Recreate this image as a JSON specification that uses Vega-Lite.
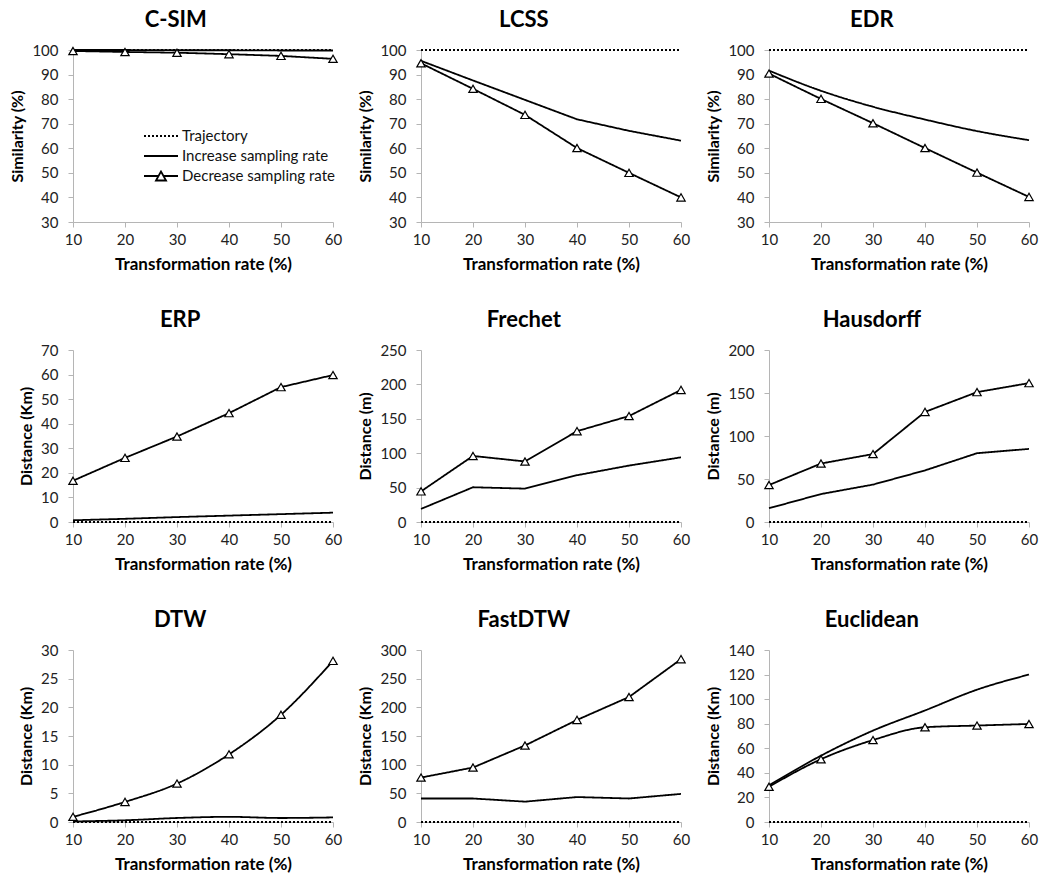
{
  "$schema": "https://vega.github.io/schema/vega-lite/v6.json",
  "background": "white",
  "padding": {"left": 9, "top": 9, "right": 5, "bottom": 3},
  "datasets": {
    "d": [
      {"m": "C-SIM", "s": "Trajectory", "r": 10, "v": 100}, {"m": "C-SIM", "s": "Trajectory", "r": 20, "v": 100}, {"m": "C-SIM", "s": "Trajectory", "r": 30, "v": 100}, {"m": "C-SIM", "s": "Trajectory", "r": 40, "v": 100}, {"m": "C-SIM", "s": "Trajectory", "r": 50, "v": 100}, {"m": "C-SIM", "s": "Trajectory", "r": 60, "v": 100},
      {"m": "C-SIM", "s": "Increase sampling rate", "r": 10, "v": 100}, {"m": "C-SIM", "s": "Increase sampling rate", "r": 20, "v": 100}, {"m": "C-SIM", "s": "Increase sampling rate", "r": 30, "v": 99.9}, {"m": "C-SIM", "s": "Increase sampling rate", "r": 40, "v": 99.9}, {"m": "C-SIM", "s": "Increase sampling rate", "r": 50, "v": 99.8}, {"m": "C-SIM", "s": "Increase sampling rate", "r": 60, "v": 99.8},
      {"m": "C-SIM", "s": "Decrease sampling rate", "r": 10, "v": 99.6}, {"m": "C-SIM", "s": "Decrease sampling rate", "r": 20, "v": 99.2}, {"m": "C-SIM", "s": "Decrease sampling rate", "r": 30, "v": 98.9}, {"m": "C-SIM", "s": "Decrease sampling rate", "r": 40, "v": 98.3}, {"m": "C-SIM", "s": "Decrease sampling rate", "r": 50, "v": 97.6}, {"m": "C-SIM", "s": "Decrease sampling rate", "r": 60, "v": 96.4},

      {"m": "LCSS", "s": "Trajectory", "r": 10, "v": 100}, {"m": "LCSS", "s": "Trajectory", "r": 20, "v": 100}, {"m": "LCSS", "s": "Trajectory", "r": 30, "v": 100}, {"m": "LCSS", "s": "Trajectory", "r": 40, "v": 100}, {"m": "LCSS", "s": "Trajectory", "r": 50, "v": 100}, {"m": "LCSS", "s": "Trajectory", "r": 60, "v": 100},
      {"m": "LCSS", "s": "Increase sampling rate", "r": 10, "v": 95.6}, {"m": "LCSS", "s": "Increase sampling rate", "r": 20, "v": 87.6}, {"m": "LCSS", "s": "Increase sampling rate", "r": 30, "v": 79.7}, {"m": "LCSS", "s": "Increase sampling rate", "r": 40, "v": 71.8}, {"m": "LCSS", "s": "Increase sampling rate", "r": 50, "v": 67.1}, {"m": "LCSS", "s": "Increase sampling rate", "r": 60, "v": 63.1},
      {"m": "LCSS", "s": "Decrease sampling rate", "r": 10, "v": 94.6}, {"m": "LCSS", "s": "Decrease sampling rate", "r": 20, "v": 84.2}, {"m": "LCSS", "s": "Decrease sampling rate", "r": 30, "v": 73.6}, {"m": "LCSS", "s": "Decrease sampling rate", "r": 40, "v": 60.1}, {"m": "LCSS", "s": "Decrease sampling rate", "r": 50, "v": 50}, {"m": "LCSS", "s": "Decrease sampling rate", "r": 60, "v": 40},

      {"m": "EDR", "s": "Trajectory", "r": 10, "v": 100}, {"m": "EDR", "s": "Trajectory", "r": 20, "v": 100}, {"m": "EDR", "s": "Trajectory", "r": 30, "v": 100}, {"m": "EDR", "s": "Trajectory", "r": 40, "v": 100}, {"m": "EDR", "s": "Trajectory", "r": 50, "v": 100}, {"m": "EDR", "s": "Trajectory", "r": 60, "v": 100},
      {"m": "EDR", "s": "Increase sampling rate", "r": 10, "v": 91.6}, {"m": "EDR", "s": "Increase sampling rate", "r": 20, "v": 83.4}, {"m": "EDR", "s": "Increase sampling rate", "r": 30, "v": 76.9}, {"m": "EDR", "s": "Increase sampling rate", "r": 40, "v": 71.7}, {"m": "EDR", "s": "Increase sampling rate", "r": 50, "v": 67}, {"m": "EDR", "s": "Increase sampling rate", "r": 60, "v": 63.3},
      {"m": "EDR", "s": "Decrease sampling rate", "r": 10, "v": 90.4}, {"m": "EDR", "s": "Decrease sampling rate", "r": 20, "v": 80.1}, {"m": "EDR", "s": "Decrease sampling rate", "r": 30, "v": 70.2}, {"m": "EDR", "s": "Decrease sampling rate", "r": 40, "v": 60.1}, {"m": "EDR", "s": "Decrease sampling rate", "r": 50, "v": 50.1}, {"m": "EDR", "s": "Decrease sampling rate", "r": 60, "v": 40.2},

      {"m": "ERP", "s": "Trajectory", "r": 10, "v": 0}, {"m": "ERP", "s": "Trajectory", "r": 20, "v": 0}, {"m": "ERP", "s": "Trajectory", "r": 30, "v": 0}, {"m": "ERP", "s": "Trajectory", "r": 40, "v": 0}, {"m": "ERP", "s": "Trajectory", "r": 50, "v": 0}, {"m": "ERP", "s": "Trajectory", "r": 60, "v": 0},
      {"m": "ERP", "s": "Increase sampling rate", "r": 10, "v": 0.7}, {"m": "ERP", "s": "Increase sampling rate", "r": 20, "v": 1.3}, {"m": "ERP", "s": "Increase sampling rate", "r": 30, "v": 2}, {"m": "ERP", "s": "Increase sampling rate", "r": 40, "v": 2.6}, {"m": "ERP", "s": "Increase sampling rate", "r": 50, "v": 3.2}, {"m": "ERP", "s": "Increase sampling rate", "r": 60, "v": 3.8},
      {"m": "ERP", "s": "Decrease sampling rate", "r": 10, "v": 16.8}, {"m": "ERP", "s": "Decrease sampling rate", "r": 20, "v": 26.1}, {"m": "ERP", "s": "Decrease sampling rate", "r": 30, "v": 34.8}, {"m": "ERP", "s": "Decrease sampling rate", "r": 40, "v": 44.3}, {"m": "ERP", "s": "Decrease sampling rate", "r": 50, "v": 54.9}, {"m": "ERP", "s": "Decrease sampling rate", "r": 60, "v": 59.8},

      {"m": "Frechet", "s": "Trajectory", "r": 10, "v": 0}, {"m": "Frechet", "s": "Trajectory", "r": 20, "v": 0}, {"m": "Frechet", "s": "Trajectory", "r": 30, "v": 0}, {"m": "Frechet", "s": "Trajectory", "r": 40, "v": 0}, {"m": "Frechet", "s": "Trajectory", "r": 50, "v": 0}, {"m": "Frechet", "s": "Trajectory", "r": 60, "v": 0},
      {"m": "Frechet", "s": "Increase sampling rate", "r": 10, "v": 19}, {"m": "Frechet", "s": "Increase sampling rate", "r": 20, "v": 50.5}, {"m": "Frechet", "s": "Increase sampling rate", "r": 30, "v": 48.5}, {"m": "Frechet", "s": "Increase sampling rate", "r": 40, "v": 68}, {"m": "Frechet", "s": "Increase sampling rate", "r": 50, "v": 82}, {"m": "Frechet", "s": "Increase sampling rate", "r": 60, "v": 94},
      {"m": "Frechet", "s": "Decrease sampling rate", "r": 10, "v": 44.5}, {"m": "Frechet", "s": "Decrease sampling rate", "r": 20, "v": 96}, {"m": "Frechet", "s": "Decrease sampling rate", "r": 30, "v": 88}, {"m": "Frechet", "s": "Decrease sampling rate", "r": 40, "v": 132}, {"m": "Frechet", "s": "Decrease sampling rate", "r": 50, "v": 154}, {"m": "Frechet", "s": "Decrease sampling rate", "r": 60, "v": 192},

      {"m": "Hausdorff", "s": "Trajectory", "r": 10, "v": 0}, {"m": "Hausdorff", "s": "Trajectory", "r": 20, "v": 0}, {"m": "Hausdorff", "s": "Trajectory", "r": 30, "v": 0}, {"m": "Hausdorff", "s": "Trajectory", "r": 40, "v": 0}, {"m": "Hausdorff", "s": "Trajectory", "r": 50, "v": 0}, {"m": "Hausdorff", "s": "Trajectory", "r": 60, "v": 0},
      {"m": "Hausdorff", "s": "Increase sampling rate", "r": 10, "v": 16}, {"m": "Hausdorff", "s": "Increase sampling rate", "r": 20, "v": 32.5}, {"m": "Hausdorff", "s": "Increase sampling rate", "r": 30, "v": 43.5}, {"m": "Hausdorff", "s": "Increase sampling rate", "r": 40, "v": 60}, {"m": "Hausdorff", "s": "Increase sampling rate", "r": 50, "v": 80}, {"m": "Hausdorff", "s": "Increase sampling rate", "r": 60, "v": 85},
      {"m": "Hausdorff", "s": "Decrease sampling rate", "r": 10, "v": 43}, {"m": "Hausdorff", "s": "Decrease sampling rate", "r": 20, "v": 68}, {"m": "Hausdorff", "s": "Decrease sampling rate", "r": 30, "v": 79}, {"m": "Hausdorff", "s": "Decrease sampling rate", "r": 40, "v": 128}, {"m": "Hausdorff", "s": "Decrease sampling rate", "r": 50, "v": 151}, {"m": "Hausdorff", "s": "Decrease sampling rate", "r": 60, "v": 161.5},

      {"m": "DTW", "s": "Trajectory", "r": 10, "v": 0}, {"m": "DTW", "s": "Trajectory", "r": 20, "v": 0}, {"m": "DTW", "s": "Trajectory", "r": 30, "v": 0}, {"m": "DTW", "s": "Trajectory", "r": 40, "v": 0}, {"m": "DTW", "s": "Trajectory", "r": 50, "v": 0}, {"m": "DTW", "s": "Trajectory", "r": 60, "v": 0},
      {"m": "DTW", "s": "Increase sampling rate", "r": 10, "v": 0.1}, {"m": "DTW", "s": "Increase sampling rate", "r": 20, "v": 0.3}, {"m": "DTW", "s": "Increase sampling rate", "r": 30, "v": 0.7}, {"m": "DTW", "s": "Increase sampling rate", "r": 40, "v": 0.9}, {"m": "DTW", "s": "Increase sampling rate", "r": 50, "v": 0.7}, {"m": "DTW", "s": "Increase sampling rate", "r": 60, "v": 0.8},
      {"m": "DTW", "s": "Decrease sampling rate", "r": 10, "v": 0.9}, {"m": "DTW", "s": "Decrease sampling rate", "r": 20, "v": 3.5}, {"m": "DTW", "s": "Decrease sampling rate", "r": 30, "v": 6.7}, {"m": "DTW", "s": "Decrease sampling rate", "r": 40, "v": 11.8}, {"m": "DTW", "s": "Decrease sampling rate", "r": 50, "v": 18.7}, {"m": "DTW", "s": "Decrease sampling rate", "r": 60, "v": 28.1},

      {"m": "FastDTW", "s": "Trajectory", "r": 10, "v": 0}, {"m": "FastDTW", "s": "Trajectory", "r": 20, "v": 0}, {"m": "FastDTW", "s": "Trajectory", "r": 30, "v": 0}, {"m": "FastDTW", "s": "Trajectory", "r": 40, "v": 0}, {"m": "FastDTW", "s": "Trajectory", "r": 50, "v": 0}, {"m": "FastDTW", "s": "Trajectory", "r": 60, "v": 0},
      {"m": "FastDTW", "s": "Increase sampling rate", "r": 10, "v": 41}, {"m": "FastDTW", "s": "Increase sampling rate", "r": 20, "v": 41}, {"m": "FastDTW", "s": "Increase sampling rate", "r": 30, "v": 35.5}, {"m": "FastDTW", "s": "Increase sampling rate", "r": 40, "v": 43.5}, {"m": "FastDTW", "s": "Increase sampling rate", "r": 50, "v": 41}, {"m": "FastDTW", "s": "Increase sampling rate", "r": 60, "v": 49},
      {"m": "FastDTW", "s": "Decrease sampling rate", "r": 10, "v": 77.5}, {"m": "FastDTW", "s": "Decrease sampling rate", "r": 20, "v": 95}, {"m": "FastDTW", "s": "Decrease sampling rate", "r": 30, "v": 133.5}, {"m": "FastDTW", "s": "Decrease sampling rate", "r": 40, "v": 178}, {"m": "FastDTW", "s": "Decrease sampling rate", "r": 50, "v": 218}, {"m": "FastDTW", "s": "Decrease sampling rate", "r": 60, "v": 284},

      {"m": "Euclidean", "s": "Trajectory", "r": 10, "v": 0}, {"m": "Euclidean", "s": "Trajectory", "r": 20, "v": 0}, {"m": "Euclidean", "s": "Trajectory", "r": 30, "v": 0}, {"m": "Euclidean", "s": "Trajectory", "r": 40, "v": 0}, {"m": "Euclidean", "s": "Trajectory", "r": 50, "v": 0}, {"m": "Euclidean", "s": "Trajectory", "r": 60, "v": 0},
      {"m": "Euclidean", "s": "Increase sampling rate", "r": 10, "v": 29.8}, {"m": "Euclidean", "s": "Increase sampling rate", "r": 20, "v": 54}, {"m": "Euclidean", "s": "Increase sampling rate", "r": 30, "v": 74.4}, {"m": "Euclidean", "s": "Increase sampling rate", "r": 40, "v": 90.8}, {"m": "Euclidean", "s": "Increase sampling rate", "r": 50, "v": 107.7}, {"m": "Euclidean", "s": "Increase sampling rate", "r": 60, "v": 120},
      {"m": "Euclidean", "s": "Decrease sampling rate", "r": 10, "v": 28.7}, {"m": "Euclidean", "s": "Decrease sampling rate", "r": 20, "v": 51.1}, {"m": "Euclidean", "s": "Decrease sampling rate", "r": 30, "v": 66.7}, {"m": "Euclidean", "s": "Decrease sampling rate", "r": 40, "v": 77.1}, {"m": "Euclidean", "s": "Decrease sampling rate", "r": 50, "v": 78.5}, {"m": "Euclidean", "s": "Decrease sampling rate", "r": 60, "v": 79.8}
    ]
  },
  "columns": 3,
  "spacing": {"column": 88, "row": 128},
  "bounds": "flush",
  "resolve": {"scale": {"strokeDash": "independent"}, "legend": {"strokeDash": "independent"}},
  "concat": [
    {
      "title": "C-SIM", "width": 260, "height": 172,
      "data": {"name": "d"},
      "transform": [{"filter": "datum.m === 'C-SIM'"}],
      "encoding": {
        "x": {"field": "r", "type": "quantitative", "scale": {"domain": [10, 60], "nice": false, "zero": false}, "axis": {"values": [10, 20, 30, 40, 50, 60], "title": "Transformation rate (%)"}},
        "y": {"field": "v", "type": "quantitative", "scale": {"domain": [30, 100], "nice": false, "zero": false}, "axis": {"values": [30, 40, 50, 60, 70, 80, 90, 100], "title": "Similarity (%)"}}
      },
      "layer": [
        {"mark": {"type": "line", "color": "black", "strokeWidth": 1.8},
         "encoding": {"strokeDash": {"field": "s", "type": "nominal",
           "scale": {"domain": ["Trajectory", "Increase sampling rate", "Decrease sampling rate"], "range": [[2, 2], [1, 0], [1, 0]]},
           "legend": {"title": null, "orient": "none", "legendX": 77, "legendY": 75, "symbolType": "stroke", "symbolSize": 400, "symbolStrokeWidth": 1.8, "symbolStrokeColor": "black", "symbolFillColor": "transparent", "labelFont": "Lato", "labelFontSize": 15, "labelColor": "#111", "rowPadding": 1, "labelOffset": 10,
             "encode": {"symbols": {"update": {"shape": {"signal": "datum.value === 'Decrease sampling rate' ? 'M-1.7,0L-0.27,0M0.27,0L1.7,0M-0.5,0.45L0,-0.45L0.5,0.45Z' : 'M-1.7,0L1.7,0'"}}}}}}}},
        {"transform": [{"filter": "datum.s === 'Decrease sampling rate'"}],
         "mark": {"type": "point", "shape": "triangle-up", "filled": true, "fill": "white", "stroke": "black", "strokeWidth": 1.2, "size": 70, "opacity": 1}}
      ]
    },
    {
      "title": "LCSS", "width": 260, "height": 172,
      "data": {"name": "d"},
      "transform": [{"filter": "datum.m === 'LCSS'"}],
      "encoding": {
        "x": {"field": "r", "type": "quantitative", "scale": {"domain": [10, 60], "nice": false, "zero": false}, "axis": {"values": [10, 20, 30, 40, 50, 60], "title": "Transformation rate (%)"}},
        "y": {"field": "v", "type": "quantitative", "scale": {"domain": [30, 100], "nice": false, "zero": false}, "axis": {"values": [30, 40, 50, 60, 70, 80, 90, 100], "title": "Similarity (%)"}}
      },
      "layer": [
        {"mark": {"type": "line", "color": "black", "strokeWidth": 1.8},
         "encoding": {"strokeDash": {"field": "s", "type": "nominal", "scale": {"domain": ["Trajectory", "Increase sampling rate", "Decrease sampling rate"], "range": [[2, 2], [1, 0], [1, 0]]}, "legend": null}}},
        {"transform": [{"filter": "datum.s === 'Decrease sampling rate'"}],
         "mark": {"type": "point", "shape": "triangle-up", "filled": true, "fill": "white", "stroke": "black", "strokeWidth": 1.2, "size": 70, "opacity": 1}}
      ]
    },
    {
      "title": "EDR", "width": 260, "height": 172,
      "data": {"name": "d"},
      "transform": [{"filter": "datum.m === 'EDR'"}],
      "encoding": {
        "x": {"field": "r", "type": "quantitative", "scale": {"domain": [10, 60], "nice": false, "zero": false}, "axis": {"values": [10, 20, 30, 40, 50, 60], "title": "Transformation rate (%)"}},
        "y": {"field": "v", "type": "quantitative", "scale": {"domain": [30, 100], "nice": false, "zero": false}, "axis": {"values": [30, 40, 50, 60, 70, 80, 90, 100], "title": "Similarity (%)"}}
      },
      "layer": [
        {"mark": {"type": "line", "interpolate": "monotone", "color": "black", "strokeWidth": 1.8},
         "encoding": {"strokeDash": {"field": "s", "type": "nominal", "scale": {"domain": ["Trajectory", "Increase sampling rate", "Decrease sampling rate"], "range": [[2, 2], [1, 0], [1, 0]]}, "legend": null}}},
        {"transform": [{"filter": "datum.s === 'Decrease sampling rate'"}],
         "mark": {"type": "point", "shape": "triangle-up", "filled": true, "fill": "white", "stroke": "black", "strokeWidth": 1.2, "size": 70, "opacity": 1}}
      ]
    },
    {
      "title": "ERP", "width": 260, "height": 172,
      "data": {"name": "d"},
      "transform": [{"filter": "datum.m === 'ERP'"}],
      "encoding": {
        "x": {"field": "r", "type": "quantitative", "scale": {"domain": [10, 60], "nice": false, "zero": false}, "axis": {"values": [10, 20, 30, 40, 50, 60], "title": "Transformation rate (%)"}},
        "y": {"field": "v", "type": "quantitative", "scale": {"domain": [0, 70], "nice": false, "zero": false}, "axis": {"values": [0, 10, 20, 30, 40, 50, 60, 70], "title": "Distance (Km)"}}
      },
      "layer": [
        {"mark": {"type": "line", "color": "black", "strokeWidth": 1.8},
         "encoding": {"strokeDash": {"field": "s", "type": "nominal", "scale": {"domain": ["Trajectory", "Increase sampling rate", "Decrease sampling rate"], "range": [[2, 2], [1, 0], [1, 0]]}, "legend": null}}},
        {"transform": [{"filter": "datum.s === 'Decrease sampling rate'"}],
         "mark": {"type": "point", "shape": "triangle-up", "filled": true, "fill": "white", "stroke": "black", "strokeWidth": 1.2, "size": 70, "opacity": 1}}
      ]
    },
    {
      "title": "Frechet", "width": 260, "height": 172,
      "data": {"name": "d"},
      "transform": [{"filter": "datum.m === 'Frechet'"}],
      "encoding": {
        "x": {"field": "r", "type": "quantitative", "scale": {"domain": [10, 60], "nice": false, "zero": false}, "axis": {"values": [10, 20, 30, 40, 50, 60], "title": "Transformation rate (%)"}},
        "y": {"field": "v", "type": "quantitative", "scale": {"domain": [0, 250], "nice": false, "zero": false}, "axis": {"values": [0, 50, 100, 150, 200, 250], "title": "Distance (m)"}}
      },
      "layer": [
        {"mark": {"type": "line", "color": "black", "strokeWidth": 1.8},
         "encoding": {"strokeDash": {"field": "s", "type": "nominal", "scale": {"domain": ["Trajectory", "Increase sampling rate", "Decrease sampling rate"], "range": [[2, 2], [1, 0], [1, 0]]}, "legend": null}}},
        {"transform": [{"filter": "datum.s === 'Decrease sampling rate'"}],
         "mark": {"type": "point", "shape": "triangle-up", "filled": true, "fill": "white", "stroke": "black", "strokeWidth": 1.2, "size": 70, "opacity": 1}}
      ]
    },
    {
      "title": "Hausdorff", "width": 260, "height": 172,
      "data": {"name": "d"},
      "transform": [{"filter": "datum.m === 'Hausdorff'"}],
      "encoding": {
        "x": {"field": "r", "type": "quantitative", "scale": {"domain": [10, 60], "nice": false, "zero": false}, "axis": {"values": [10, 20, 30, 40, 50, 60], "title": "Transformation rate (%)"}},
        "y": {"field": "v", "type": "quantitative", "scale": {"domain": [0, 200], "nice": false, "zero": false}, "axis": {"values": [0, 50, 100, 150, 200], "title": "Distance (m)"}}
      },
      "layer": [
        {"mark": {"type": "line", "color": "black", "strokeWidth": 1.8},
         "encoding": {"strokeDash": {"field": "s", "type": "nominal", "scale": {"domain": ["Trajectory", "Increase sampling rate", "Decrease sampling rate"], "range": [[2, 2], [1, 0], [1, 0]]}, "legend": null}}},
        {"transform": [{"filter": "datum.s === 'Decrease sampling rate'"}],
         "mark": {"type": "point", "shape": "triangle-up", "filled": true, "fill": "white", "stroke": "black", "strokeWidth": 1.2, "size": 70, "opacity": 1}}
      ]
    },
    {
      "title": "DTW", "width": 260, "height": 172,
      "data": {"name": "d"},
      "transform": [{"filter": "datum.m === 'DTW'"}],
      "encoding": {
        "x": {"field": "r", "type": "quantitative", "scale": {"domain": [10, 60], "nice": false, "zero": false}, "axis": {"values": [10, 20, 30, 40, 50, 60], "title": "Transformation rate (%)"}},
        "y": {"field": "v", "type": "quantitative", "scale": {"domain": [0, 30], "nice": false, "zero": false}, "axis": {"values": [0, 5, 10, 15, 20, 25, 30], "title": "Distance (Km)"}}
      },
      "layer": [
        {"mark": {"type": "line", "interpolate": "monotone", "color": "black", "strokeWidth": 1.8},
         "encoding": {"strokeDash": {"field": "s", "type": "nominal", "scale": {"domain": ["Trajectory", "Increase sampling rate", "Decrease sampling rate"], "range": [[2, 2], [1, 0], [1, 0]]}, "legend": null}}},
        {"transform": [{"filter": "datum.s === 'Decrease sampling rate'"}],
         "mark": {"type": "point", "shape": "triangle-up", "filled": true, "fill": "white", "stroke": "black", "strokeWidth": 1.2, "size": 70, "opacity": 1}}
      ]
    },
    {
      "title": "FastDTW", "width": 260, "height": 172,
      "data": {"name": "d"},
      "transform": [{"filter": "datum.m === 'FastDTW'"}],
      "encoding": {
        "x": {"field": "r", "type": "quantitative", "scale": {"domain": [10, 60], "nice": false, "zero": false}, "axis": {"values": [10, 20, 30, 40, 50, 60], "title": "Transformation rate (%)"}},
        "y": {"field": "v", "type": "quantitative", "scale": {"domain": [0, 300], "nice": false, "zero": false}, "axis": {"values": [0, 50, 100, 150, 200, 250, 300], "title": "Distance (Km)"}}
      },
      "layer": [
        {"mark": {"type": "line", "color": "black", "strokeWidth": 1.8},
         "encoding": {"strokeDash": {"field": "s", "type": "nominal", "scale": {"domain": ["Trajectory", "Increase sampling rate", "Decrease sampling rate"], "range": [[2, 2], [1, 0], [1, 0]]}, "legend": null}}},
        {"transform": [{"filter": "datum.s === 'Decrease sampling rate'"}],
         "mark": {"type": "point", "shape": "triangle-up", "filled": true, "fill": "white", "stroke": "black", "strokeWidth": 1.2, "size": 70, "opacity": 1}}
      ]
    },
    {
      "title": "Euclidean", "width": 260, "height": 172,
      "data": {"name": "d"},
      "transform": [{"filter": "datum.m === 'Euclidean'"}],
      "encoding": {
        "x": {"field": "r", "type": "quantitative", "scale": {"domain": [10, 60], "nice": false, "zero": false}, "axis": {"values": [10, 20, 30, 40, 50, 60], "title": "Transformation rate (%)"}},
        "y": {"field": "v", "type": "quantitative", "scale": {"domain": [0, 140], "nice": false, "zero": false}, "axis": {"values": [0, 20, 40, 60, 80, 100, 120, 140], "title": "Distance (Km)"}}
      },
      "layer": [
        {"mark": {"type": "line", "interpolate": "monotone", "color": "black", "strokeWidth": 1.8},
         "encoding": {"strokeDash": {"field": "s", "type": "nominal", "scale": {"domain": ["Trajectory", "Increase sampling rate", "Decrease sampling rate"], "range": [[2, 2], [1, 0], [1, 0]]}, "legend": null}}},
        {"transform": [{"filter": "datum.s === 'Decrease sampling rate'"}],
         "mark": {"type": "point", "shape": "triangle-up", "filled": true, "fill": "white", "stroke": "black", "strokeWidth": 1.2, "size": 70, "opacity": 1}}
      ]
    }
  ],
  "config": {
    "font": "Lato",
    "view": {"stroke": null},
    "axis": {"grid": false, "domainColor": "#b5b5b5", "tickColor": "#b5b5b5", "tickSize": 5, "labelFont": "Lato", "labelFontSize": 15, "labelColor": "#222", "titleFont": "Lato", "titleFontWeight": "bold", "titleColor": "#000"},
    "axisX": {"titleFontSize": 17, "titlePadding": 9, "labelPadding": 5, "labelFlush": false},
    "axisY": {"titleFontSize": 16, "titlePadding": 6, "labelPadding": 10},
    "title": {"font": "Lato", "fontSize": 22, "fontWeight": "bold", "color": "#000", "frame": "bounds", "anchor": "middle", "offset": 11}
  }
}
